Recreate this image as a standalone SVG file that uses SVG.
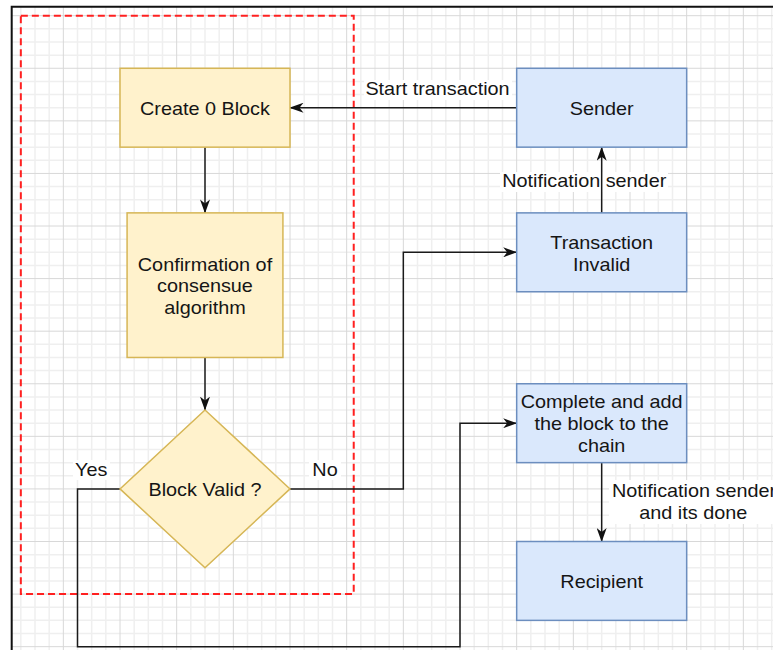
<svg xmlns="http://www.w3.org/2000/svg" width="773" height="650" viewBox="0 0 773 650">
  <style>
    .minor { stroke: #efefef; stroke-width: 1.5; fill: none; }
    .major { stroke: #d8d8d8; stroke-width: 1; fill: none; }
    .frame { stroke: #111; stroke-width: 2; fill: none; }
    .group-box { stroke: #ff2020; stroke-width: 2; stroke-dasharray: 7 4; fill: none; }
    .yellow { fill: #fff2cc; stroke: #d6b656; stroke-width: 1.5; }
    .blue { fill: #dae8fc; stroke: #6c8ebf; stroke-width: 1.5; }
    .edge { stroke: #1a1a1a; stroke-width: 1.5; fill: none; }
    .label-bg { fill: #ffffff; }
    text { font-family: "Liberation Sans", Arial, sans-serif; font-size: 18.4px; fill: #151515; }
    .c { text-anchor: middle; }
    .e { text-anchor: end; }
  </style>
  <defs>
    <marker id="arrow" viewBox="0 0 14 10" refX="13.5" refY="5" markerUnits="userSpaceOnUse" markerWidth="14" markerHeight="10" orient="auto">
      <path d="M0 0L14 5L0 10L4 5Z" fill="#111"/>
    </marker>
  </defs>

  <rect width="773" height="650" fill="#ffffff"/>

  <!-- background grid -->
  <g id="grid">
    <path class="minor" d="M20.83 7V650M35 7V650M49.17 7V650M77.5 7V650M91.67 7V650M105.83 7V650M134.17 7V650M148.33 7V650M162.5 7V650M190.83 7V650M205 7V650M219.17 7V650M247.5 7V650M261.67 7V650M275.83 7V650M304.17 7V650M318.33 7V650M332.5 7V650M360.83 7V650M375 7V650M389.17 7V650M417.5 7V650M431.67 7V650M445.83 7V650M474.17 7V650M488.33 7V650M502.5 7V650M530.83 7V650M545 7V650M559.17 7V650M587.5 7V650M601.67 7V650M615.83 7V650M644.17 7V650M658.33 7V650M672.5 7V650M700.83 7V650M715 7V650M729.17 7V650M757.5 7V650M771.67 7V650"/>
    <path class="minor" d="M12 28.85H773M12 41.99H773M12 55.14H773M12 81.43H773M12 94.57H773M12 107.72H773M12 134.01H773M12 147.15H773M12 160.3H773M12 186.59H773M12 199.73H773M12 212.88H773M12 239.17H773M12 252.31H773M12 265.46H773M12 291.75H773M12 304.89H773M12 318.04H773M12 344.33H773M12 357.47H773M12 370.62H773M12 396.91H773M12 410.05H773M12 423.2H773M12 449.49H773M12 462.63H773M12 475.78H773M12 502.07H773M12 515.21H773M12 528.36H773M12 554.65H773M12 567.79H773M12 580.94H773M12 607.23H773M12 620.37H773M12 633.52H773"/>
    <path class="major" d="M63.33 7V650M120 7V650M176.67 7V650M233.33 7V650M290 7V650M346.67 7V650M403.33 7V650M460 7V650M516.67 7V650M573.33 7V650M630 7V650M686.67 7V650M743.33 7V650"/>
    <path class="major" d="M12 15.7H773M12 68.28H773M12 120.86H773M12 173.44H773M12 226.02H773M12 278.6H773M12 331.18H773M12 383.76H773M12 436.34H773M12 488.92H773M12 541.5H773M12 594.08H773M12 646.66H773"/>
  </g>

  <!-- page frame -->
  <path class="frame" d="M11.7 650V6.7H773"/>

  <!-- dashed grouping around the block creation steps -->
  <rect id="block-group" class="group-box" x="20.83" y="15.7" width="332.9" height="578.4"/>

  <!-- backgrounds of edge labels -->
  <g id="label-backgrounds">
    <rect class="label-bg" x="364" y="80" width="148" height="20"/>
    <rect class="label-bg" x="500" y="172" width="168" height="20"/>
    <rect class="label-bg" x="609" y="480" width="164" height="44"/>
    <rect class="label-bg" x="73" y="460" width="37" height="20"/>
    <rect class="label-bg" x="309" y="460" width="32" height="20"/>
  </g>

  <!-- connectors -->
  <g id="connectors">
    <path class="edge" d="M516.67 107.72H290" marker-end="url(#arrow)"/>
    <path class="edge" d="M205 147.15V212.88" marker-end="url(#arrow)"/>
    <path class="edge" d="M205 357.47V410.05" marker-end="url(#arrow)"/>
    <path class="edge" d="M290 488.92H403.33V252.31H516.67" marker-end="url(#arrow)"/>
    <path class="edge" d="M120 488.92H77.5V646.66H460V423.2H516.67" marker-end="url(#arrow)"/>
    <path class="edge" d="M601.67 212.88V147.15" marker-end="url(#arrow)"/>
    <path class="edge" d="M601.67 462.63V541.5" marker-end="url(#arrow)"/>
  </g>

  <!-- edge labels (horizontal stretch 1.0777, x given in stretched space) -->
  <g id="edge-labels" transform="scale(1.0777 1)">
    <text class="e" x="472.9" y="95">Start transaction</text>
    <text class="c" x="542.1" y="187.3">Notification sender</text>
    <text class="c" x="644" y="497.3">Notification sender</text>
    <text class="c" x="643.3" y="518.6">and its done</text>
    <text class="c" x="84.7" y="475.7">Yes</text>
    <text class="c" x="301.6" y="475.7">No</text>
  </g>

  <!-- nodes -->
  <g id="create-block">
    <rect class="yellow" x="120" y="68.28" width="170" height="78.87"/>
    <text class="c" transform="scale(1.0777 1)" x="190.2" y="115">Create 0 Block</text>
  </g>

  <g id="consensus">
    <rect class="yellow" x="127.08" y="212.88" width="155.84" height="144.59"/>
    <text class="c" transform="scale(1.0777 1)" x="190.2" y="270.7">Confirmation of</text>
    <text class="c" transform="scale(1.0777 1)" x="190.2" y="292.5">consensue</text>
    <text class="c" transform="scale(1.0777 1)" x="190.2" y="314.3">algorithm</text>
  </g>

  <g id="block-valid">
    <path class="yellow" d="M205 410.05L290 488.92L205 567.79L120 488.92Z"/>
    <text class="c" transform="scale(1.0777 1)" x="190.2" y="496">Block Valid ?</text>
  </g>

  <g id="sender">
    <rect class="blue" x="516.67" y="68.28" width="170" height="78.87"/>
    <text class="c" transform="scale(1.0777 1)" x="558.3" y="115">Sender</text>
  </g>

  <g id="transaction-invalid">
    <rect class="blue" x="516.67" y="212.88" width="170" height="78.87"/>
    <text class="c" transform="scale(1.0777 1)" x="558.3" y="249">Transaction</text>
    <text class="c" transform="scale(1.0777 1)" x="558.3" y="270.8">Invalid</text>
  </g>

  <g id="add-to-chain">
    <rect class="blue" x="516.67" y="383.76" width="170" height="78.87"/>
    <text class="c" transform="scale(1.0777 1)" x="558.3" y="408.3">Complete and add</text>
    <text class="c" transform="scale(1.0777 1)" x="558.3" y="430">the block to the</text>
    <text class="c" transform="scale(1.0777 1)" x="558.3" y="451.7">chain</text>
  </g>

  <g id="recipient">
    <rect class="blue" x="516.67" y="541.5" width="170" height="78.87"/>
    <text class="c" transform="scale(1.0777 1)" x="558.3" y="588.3">Recipient</text>
  </g>
</svg>
